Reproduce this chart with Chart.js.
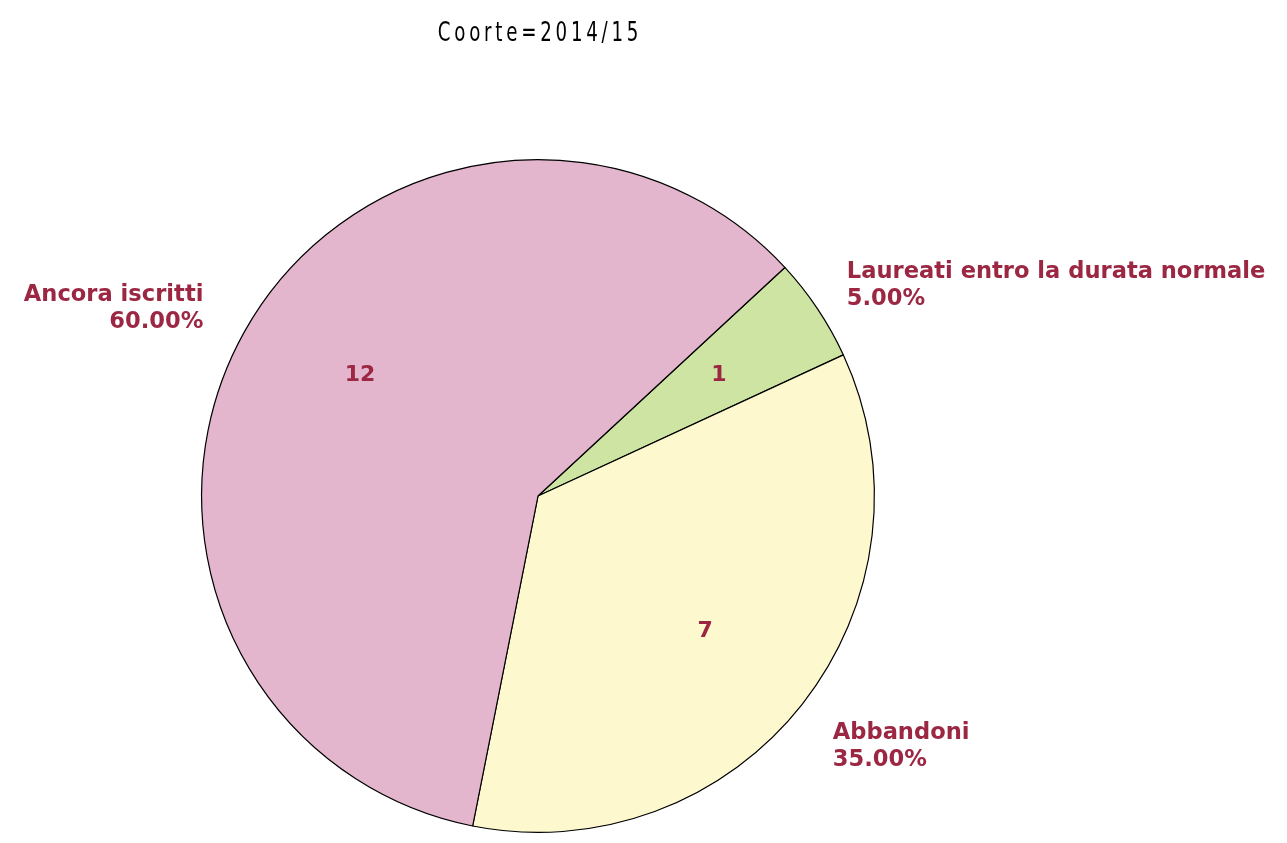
<!DOCTYPE html>
<html>
<head>
<meta charset="utf-8">
<script src="https://cdn.jsdelivr.net/npm/chart.js@4.4.0/dist/chart.umd.min.js"></script>
<style>
html,body{margin:0;padding:0;background:#fff;}
#wrap{width:1287px;height:843px;position:relative;}
</style>
</head>
<body>
<div id="wrap"><canvas id="c" width="1287" height="843"></canvas></div>
<script>
const titleText = "Coorte=2014/15";
const categories = ["Laureati entro la durata normale", "Abbandoni", "Ancora iscritti"];
const counts = [1, 7, 12];
const percentLabels = ["5.00%", "35.00%", "60.00%"];
const sliceColors = ["#CDE4A2", "#FDF8CE", "#E4B6CE"];
const labelColor = "#9B2743";

// small pixel nudges for label placement (styling only)
const outerNudge = [[-4, -9], [-1, 10], [-6, -11]];
const innerNudge = [[2, -1], [-2, 2], [10, -16]];

const labelPlugin = {
  id: 'pieLabels',
  afterDatasetsDraw(chart) {
    const ctx = chart.ctx;
    const meta = chart.getDatasetMeta(0);
    ctx.save();
    ctx.fillStyle = labelColor;
    meta.data.forEach((arc, i) => {
      const mid = (arc.startAngle + arc.endAngle) / 2;
      const r = arc.outerRadius;
      ctx.font = "bold 22px 'DejaVu Sans'";
      const ir = r * 0.64;
      ctx.textAlign = 'center';
      ctx.textBaseline = 'middle';
      ctx.fillText(String(counts[i]),
        arc.x + Math.cos(mid) * ir + innerNudge[i][0],
        arc.y + Math.sin(mid) * ir + innerNudge[i][1]);
      ctx.font = "bold 22.6px 'DejaVu Sans'";
      const orr = r + 40;
      const ox = arc.x + Math.cos(mid) * orr + outerNudge[i][0];
      const oy = arc.y + Math.sin(mid) * orr + outerNudge[i][1];
      ctx.textAlign = Math.cos(mid) >= 0 ? 'left' : 'right';
      ctx.textBaseline = 'alphabetic';
      ctx.fillText(categories[i], ox, oy);
      ctx.fillText(percentLabels[i], ox, oy + 27);
    });
    ctx.font = "200 27px 'DejaVu Sans Condensed', 'DejaVu Sans'";
    ctx.fillStyle = "#000";
    ctx.textAlign = 'center';
    ctx.textBaseline = 'alphabetic';
    ctx.letterSpacing = '5px';
    ctx.save();
    ctx.translate(540, 41);
    ctx.scale(0.75, 1);
    ctx.fillText(titleText, 0, 0);
    ctx.restore();
    ctx.restore();
  }
};

new Chart(document.getElementById('c'), {
  type: 'pie',
  data: {
    labels: categories,
    datasets: [{
      data: counts,
      backgroundColor: sliceColors,
      borderColor: '#000',
      borderWidth: 1.2
    }]
  },
  options: {
    responsive: false,
    animation: false,
    rotation: 47.2,
    layout: { padding: { left: 201, right: 412, top: 159, bottom: 10 } },
    plugins: {
      legend: { display: false },
      tooltip: { enabled: false },
      title: { display: false }
    }
  },
  plugins: [labelPlugin]
});
</script>
</body>
</html>
